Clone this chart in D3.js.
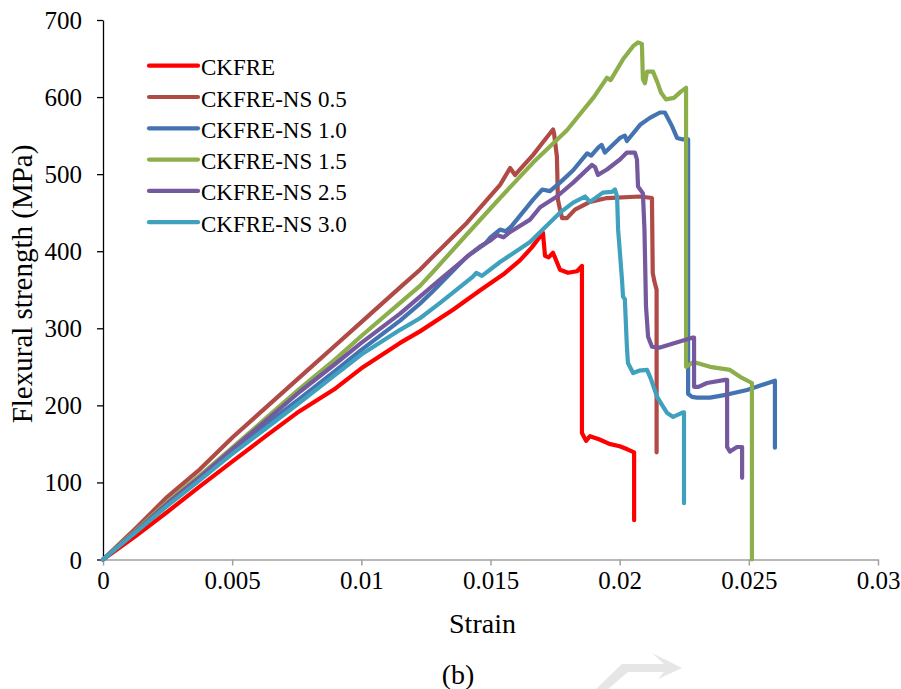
<!DOCTYPE html>
<html>
<head>
<meta charset="utf-8">
<script src="https://cdn.jsdelivr.net/npm/d3@7"></script>
<style>
  html, body { margin: 0; padding: 0; background: #fff; }
  svg { display: block; }
</style>
</head>
<body>
<svg id="chart" width="901" height="689"></svg>
<script>
// Flexural stress-strain curves of CKFRE laminates with nano-silica loading
const seriesNames = ["CKFRE", "CKFRE-NS 0.5", "CKFRE-NS 1.0", "CKFRE-NS 1.5", "CKFRE-NS 2.5", "CKFRE-NS 3.0"];
const seriesColors = ["#ff0000", "#b04a47", "#4473b2", "#8cae4b", "#74599e", "#3fa1bd"];

const xTicks = [0, 0.005, 0.01, 0.015, 0.02, 0.025, 0.03];
const xTickLabels = ["0", "0.005", "0.01", "0.015", "0.02", "0.025", "0.03"];
const yTicks = [0, 100, 200, 300, 400, 500, 600, 700];

// [strain, flexural stress (MPa)]
const ckfre = [[0,0],[0.00125,30],[0.0025,62],[0.00375,95],[0.005,127],[0.0063,160],[0.0075,190],[0.009,222],[0.010,248],[0.0115,281],[0.01227,296],[0.01355,324],[0.01459,349],[0.0155,370],[0.01614,388],[0.0166,405],[0.01703,424],[0.01711,394],[0.01725,392],[0.01742,398],[0.01769,376],[0.018,372],[0.01835,374],[0.01854,381],[0.01854,164],[0.0187,154],[0.01885,160],[0.0192,156],[0.0196,150],[0.02,147],[0.0203,143],[0.02056,139],[0.02056,51]];

const ns05 = [[0,0],[0.00125,40],[0.00248,81],[0.00375,117],[0.00503,159],[0.0063,197],[0.00763,237],[0.009,278],[0.01,308],[0.0115,353],[0.01227,376],[0.01277,393],[0.01409,437],[0.01537,486],[0.01576,508],[0.01595,499],[0.01665,525],[0.017,540],[0.01742,558],[0.01746,553],[0.01757,523],[0.01761,467],[0.01769,454],[0.01777,443],[0.01796,443],[0.01827,454],[0.01885,464],[0.01951,469],[0.02079,471],[0.02125,469],[0.02128,372],[0.02135,360],[0.02143,350],[0.02143,139]];

const ns10 = [[0,0],[0.00125,36],[0.0025,72],[0.00375,105],[0.005,140],[0.0063,175],[0.00763,209],[0.009,245],[0.01,272],[0.0115,310],[0.01227,332],[0.01277,348],[0.01409,393],[0.0148,410],[0.015,418],[0.01537,428],[0.0156,426],[0.0158,432],[0.01665,467],[0.017,480],[0.0173,478],[0.01769,489],[0.0182,505],[0.01874,527],[0.0189,524],[0.01916,534],[0.0193,538],[0.01943,528],[0.02001,547],[0.0202,550],[0.02028,543],[0.02079,564],[0.02117,573],[0.02156,580],[0.02175,580],[0.02203,562],[0.02222,547],[0.02245,545],[0.02265,545],[0.02265,215],[0.0228,211],[0.023,210],[0.0235,210],[0.02416,214],[0.02493,220],[0.02601,232],[0.02601,145]];

const ns15 = [[0,0],[0.00125,37],[0.0025,75],[0.00375,109],[0.00503,146],[0.0063,183],[0.00763,222],[0.009,260],[0.01,290],[0.0115,333],[0.01227,355],[0.01277,373],[0.01409,422],[0.01537,469],[0.01665,515],[0.01796,557],[0.01847,578],[0.019,600],[0.01951,625],[0.01965,622],[0.02013,649],[0.02052,666],[0.02071,671],[0.02086,669],[0.0209,623],[0.02098,618],[0.02106,633],[0.02129,633],[0.02145,620],[0.0216,606],[0.02179,597],[0.0221,599],[0.02237,607],[0.02257,612],[0.02257,250],[0.0228,255],[0.02299,255],[0.0235,250],[0.02427,246],[0.02466,237],[0.02512,229],[0.02512,0]];

const ns25 = [[0,0],[0.00125,36],[0.0025,73],[0.00375,107],[0.005,143],[0.0063,180],[0.00763,218],[0.009,254],[0.01,281],[0.0115,319],[0.01227,341],[0.013,362],[0.01382,385],[0.0142,396],[0.01459,406],[0.015,414],[0.01525,421],[0.0155,418],[0.01576,425],[0.01653,441],[0.01692,457],[0.01757,471],[0.0182,489],[0.01893,512],[0.01905,509],[0.01916,499],[0.01951,506],[0.02001,519],[0.02028,528],[0.02059,528],[0.02067,519],[0.02071,484],[0.0209,475],[0.02096,428],[0.02102,328],[0.0211,289],[0.02125,276],[0.02156,275],[0.02284,288],[0.02288,288],[0.02288,224],[0.02305,224],[0.02338,229],[0.02408,233],[0.02416,233],[0.02416,146],[0.02427,140],[0.02454,146],[0.02474,146],[0.02474,106]];

const ns30 = [[0,0],[0.00125,35],[0.0025,70],[0.00375,103],[0.005,137],[0.0063,170],[0.00763,204],[0.009,240],[0.01,266],[0.0115,298],[0.01227,313],[0.01305,333],[0.01432,367],[0.01445,372],[0.01467,368],[0.01537,386],[0.01653,412],[0.01742,441],[0.01769,450],[0.0182,463],[0.01866,471],[0.01885,464],[0.01935,476],[0.0197,477],[0.01982,480],[0.0199,471],[0.01994,428],[0.02001,398],[0.02009,363],[0.02013,341],[0.0202,338],[0.02028,276],[0.02032,255],[0.02052,242],[0.02075,245],[0.02106,246],[0.0212,235],[0.02145,211],[0.02165,200],[0.02184,190],[0.02207,185],[0.02245,191],[0.02249,191],[0.02249,73]];

const seriesData = [ckfre, ns05, ns10, ns15, ns25, ns30];

const fontStack = "'Liberation Serif', 'Times New Roman', 'DejaVu Serif', serif";

const svg = d3.select("#chart").attr("font-family", fontStack);
const plot = { left: 103, right: 878, top: 20, bottom: 559.5 };

const x = d3.scaleLinear().domain([0, 0.03]).range([plot.left, plot.right]);
const y = d3.scaleLinear().domain([0, 700]).range([plot.bottom, plot.top]);

// x axis (grey)
const xAxis = svg.append("g")
  .attr("transform", `translate(0,${plot.bottom})`)
  .call(d3.axisBottom(x).tickValues(xTicks).tickSize(6).tickSizeOuter(0)
    .tickFormat((d, i) => xTickLabels[i]));
xAxis.attr("font-family", fontStack);
xAxis.select(".domain").attr("stroke", "#a0a0a0").attr("stroke-width", 1.5);
xAxis.selectAll(".tick line").attr("stroke", "#a0a0a0").attr("stroke-width", 1.5);
xAxis.selectAll(".tick text")
  .attr("font-size", 25).attr("fill", "#000").attr("y", 12).attr("dy", "0.71em");

// y axis (black)
const yAxis = svg.append("g")
  .attr("transform", `translate(${plot.left},0)`)
  .call(d3.axisLeft(y).tickValues(yTicks).tickSize(6).tickSizeOuter(0));
yAxis.attr("font-family", fontStack);
yAxis.select(".domain").attr("stroke", "#000").attr("stroke-width", 1.3);
yAxis.selectAll(".tick line").attr("stroke", "#000").attr("stroke-width", 1.3);
yAxis.selectAll(".tick text")
  .attr("font-size", 25).attr("fill", "#000").attr("x", -21).attr("dy", "0.34em");

// curves
const line = d3.line().x(d => x(d[0])).y(d => y(d[1]));
svg.append("g").selectAll("path")
  .data(seriesData)
  .join("path")
  .attr("d", line)
  .attr("fill", "none")
  .attr("stroke", (d, i) => seriesColors[i])
  .attr("stroke-width", 4.2)
  .attr("stroke-linejoin", "round")
  .attr("stroke-linecap", "round");

// legend
const legend = svg.append("g").attr("transform", "translate(149,65.7)");
const rows = legend.selectAll("g").data(seriesNames).join("g")
  .attr("transform", (d, i) => `translate(0,${i * 31.3})`);
rows.append("line")
  .attr("x1", 0).attr("x2", 49).attr("y1", 0).attr("y2", 0)
  .attr("stroke", (d, i) => seriesColors[i])
  .attr("stroke-width", 4.2).attr("stroke-linecap", "round");
rows.append("text")
  .attr("x", 52).attr("y", 9.5)
  .attr("font-size", 23)
  .text(d => d);

// axis titles
svg.append("text")
  .attr("x", (plot.left + plot.right) / 2 - 8).attr("y", 633)
  .attr("text-anchor", "middle").attr("font-size", 28)
  .text("Strain");

svg.append("text")
  .attr("transform", "translate(32,284) rotate(-90)")
  .attr("text-anchor", "middle").attr("font-size", 29)
  .text("Flexural strength (MPa)");

// panel label
svg.append("text")
  .attr("x", 458).attr("y", 684)
  .attr("text-anchor", "middle").attr("font-size", 28)
  .text("(b)");

// faint arrow mark below the panel
svg.append("path")
  .attr("d", "M596,689 L622,664 L664,664 L652,653 L682,668 L658,679 L664,672 L628,672 L608,689 Z")
  .attr("fill", "#e6e6e6");
</script>
</body>
</html>
